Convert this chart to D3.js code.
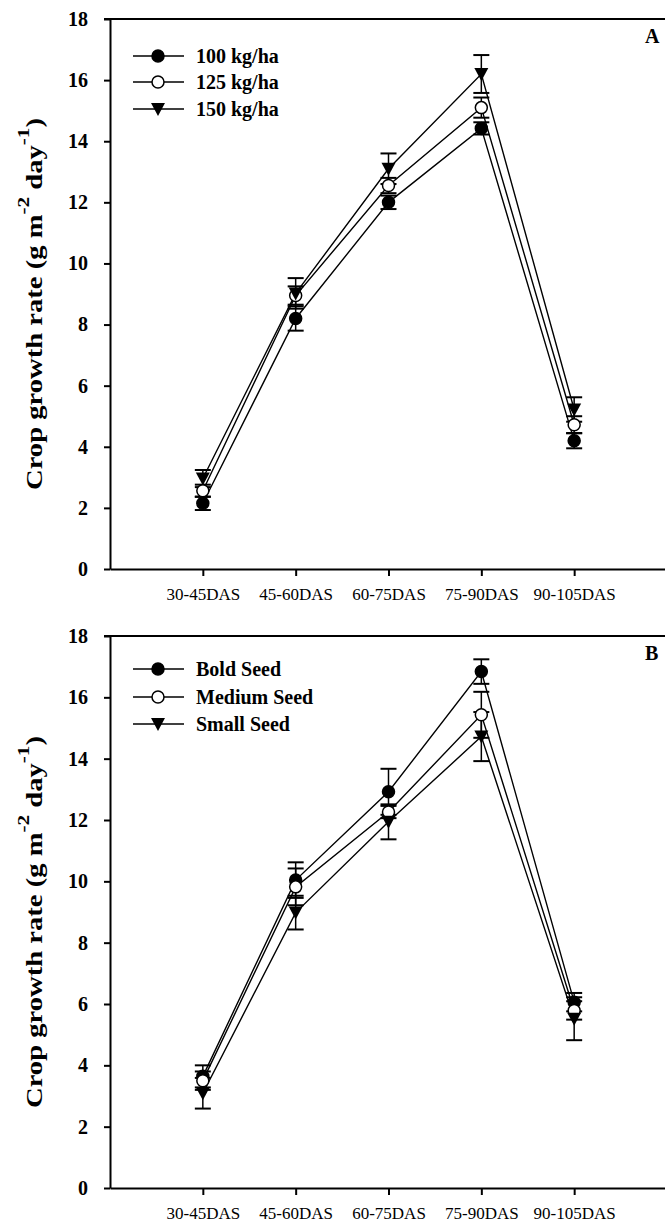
<!DOCTYPE html>
<html>
<head>
<meta charset="utf-8">
<script src="https://cdn.jsdelivr.net/npm/d3@7"></script>
<style>
  body { margin: 0; background: #fff; }
  svg { display: block; }
</style>
</head>
<body>
<svg id="container" width="665" height="1222"></svg>
<script>
const categories = ['30-45DAS', '45-60DAS', '60-75DAS', '75-90DAS', '90-105DAS']
const yTicks = [0, 2, 4, 6, 8, 10, 12, 14, 16, 18]

// panel A - nitrogen rate
const rateNames = ['100 kg/ha', '125 kg/ha', '150 kg/ha']
const rate100 = [2.15, 8.2, 12.0, 14.42, 4.2]
const rate100Err = [0.22, 0.4, 0.22, 0.2, 0.25]
const rate125 = [2.56, 8.95, 12.55, 15.1, 4.72]
const rate125Err = [0.2, 0.3, 0.25, 0.33, 0.28]
const rate150 = [2.96, 9.02, 13.1, 16.2, 5.22]
const rate150Err = [0.28, 0.5, 0.5, 0.62, 0.4]

// panel B - seed size
const seedNames = ['Bold Seed', 'Medium Seed', 'Small Seed']
const boldSeed = [3.64, 10.04, 12.92, 16.84, 6.06]
const boldSeedErr = [0.36, 0.58, 0.75, 0.4, 0.3]
const mediumSeed = [3.5, 9.82, 12.26, 15.43, 5.79]
const mediumSeedErr = [0.3, 0.6, 0.2, 0.75, 0.3]
const smallSeed = [3.09, 8.98, 11.94, 14.72, 5.52]
const smallSeedErr = [0.5, 0.55, 0.57, 0.8, 0.7]

const markers = ['filled', 'open', 'triangle']
const svg = d3.select('#container')
const serif = '"Liberation Serif", "Times New Roman", serif'

const drawMarker = (g, type, x, y) => {
  if (type === 'triangle') {
    g.append('path')
      .attr('d', `M${x - 7},${y - 6}L${x + 7},${y - 6}L${x},${y + 7}Z`)
      .attr('fill', '#000')
  } else {
    g.append('circle')
      .attr('cx', x).attr('cy', y).attr('r', 6)
      .attr('fill', type === 'filled' ? '#000' : '#fff')
      .attr('stroke', '#000').attr('stroke-width', 1.5)
  }
}

const panel = (top, bottom, series, names, letter, legendY) => {
  const xScale = d3.scaleLinear().domain([0, 6]).range([110, 667])
  const yScale = d3.scaleLinear().domain([0, 18]).range([bottom, top])
  const g = svg.append('g')

  // lines
  const line = d3.line().x((d, i) => xScale(i + 1)).y((d) => yScale(d))
  series.forEach((s) => {
    g.append('path')
      .attr('d', line(s.values))
      .attr('fill', 'none')
      .attr('stroke', '#000')
      .attr('stroke-width', 1.4)
  })

  // error bars
  series.forEach((s) => {
    s.values.forEach((v, i) => {
      const x = xScale(i + 1)
      const y0 = yScale(v - s.err[i])
      const y1 = yScale(v + s.err[i])
      g.append('line').attr('x1', x).attr('x2', x).attr('y1', y0).attr('y2', y1)
        .attr('stroke', '#000').attr('stroke-width', 1.5)
      ;[y0, y1].forEach((yy) => {
        g.append('line').attr('x1', x - 8).attr('x2', x + 8).attr('y1', yy).attr('y2', yy)
          .attr('stroke', '#000').attr('stroke-width', 2)
      })
    })
  })

  // markers
  series.forEach((s, k) => {
    s.values.forEach((v, i) => drawMarker(g, markers[k], xScale(i + 1), yScale(v)))
  })

  // axes
  const yAxis = d3.axisLeft(yScale).tickValues(yTicks).tickSize(6).tickSizeOuter(0).tickPadding(16)
  const yG = g.append('g').attr('transform', 'translate(110,0)').call(yAxis)
  yG.selectAll('text').style('font-family', serif).style('font-weight', 'bold').style('font-size', '20px').attr('fill', '#000')

  const xAxis = d3.axisBottom(xScale).tickValues([1, 2, 3, 4, 5]).tickSize(7).tickSizeOuter(0).tickPadding(12)
    .tickFormat((d) => categories[d - 1])
  const xG = g.append('g').attr('transform', `translate(0,${bottom})`).call(xAxis)
  xG.selectAll('text').style('font-family', serif).style('font-size', '17px').attr('fill', '#000')

  g.selectAll('.domain, .tick line').attr('stroke', '#000').attr('stroke-width', 2)

  g.append('line').attr('x1', 104).attr('x2', 665).attr('y1', top).attr('y2', top)
    .attr('stroke', '#000').attr('stroke-width', 2)

  // panel letter
  g.append('text').attr('x', 645).attr('y', top + 24).text(letter)
    .style('font-family', serif).style('font-weight', 'bold').style('font-size', '20px')

  // y title
  const title = g.append('text')
    .attr('transform', `translate(42,${(top + bottom) / 2 + 10}) rotate(-90)`)
    .attr('text-anchor', 'middle')
    .attr('textLength', 372)
    .attr('lengthAdjust', 'spacingAndGlyphs')
    .style('font-family', serif).style('font-weight', 'bold').style('font-size', '23px')
  title.append('tspan').text('Crop growth rate (g m')
  title.append('tspan').attr('dy', -13).style('font-size', '17px').text('-2')
  title.append('tspan').attr('dy', 13).text(' day')
  title.append('tspan').attr('dy', -13).style('font-size', '17px').text('-1')
  title.append('tspan').attr('dy', 13).text(')')

  // legend
  names.forEach((name, k) => {
    const y = top + legendY[k]
    g.append('line').attr('x1', 133).attr('x2', 184).attr('y1', y).attr('y2', y)
      .attr('stroke', '#000').attr('stroke-width', 1.5)
    drawMarker(g, markers[k], 158, y)
    g.append('text').attr('x', 196).attr('y', y + 7).text(name)
      .style('font-family', serif).style('font-weight', 'bold').style('font-size', '20px')
  })
}

panel(19, 569, [
  { values: rate100, err: rate100Err },
  { values: rate125, err: rate125Err },
  { values: rate150, err: rate150Err }
], rateNames, 'A', [37, 63, 90])

panel(636, 1188, [
  { values: boldSeed, err: boldSeedErr },
  { values: mediumSeed, err: mediumSeedErr },
  { values: smallSeed, err: smallSeedErr }
], seedNames, 'B', [33, 61, 88])
</script>
</body>
</html>
